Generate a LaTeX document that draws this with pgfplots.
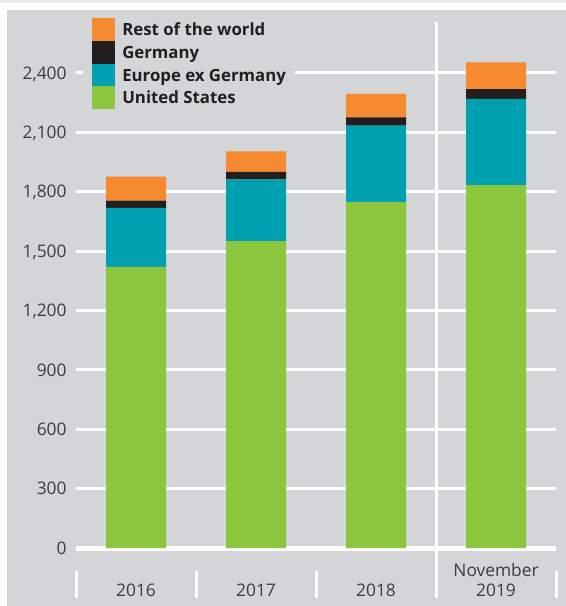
\documentclass[border=0pt]{standalone}
\usepackage{fontspec}
\setmainfont{Open Sans}
\usepackage{pgfplots}
\pgfplotsset{compat=1.18}
\definecolor{bg}{RGB}{212,213,215}
\definecolor{topband}{RGB}{235,235,237}
\definecolor{cus}{RGB}{140,198,63}
\definecolor{ceu}{RGB}{0,160,176}
\definecolor{cger}{RGB}{35,31,32}
\definecolor{crow}{RGB}{245,138,49}
\definecolor{txt}{RGB}{60,60,62}
\pgfplotsset{myleg/.style={legend image code/.code={\fill[##1] (0pt,-8.5pt) rectangle (17.25pt,8.5pt);}}}
\begin{document}
\begin{tikzpicture}
\path[use as bounding box] (0,0) rectangle (424.5pt,454.5pt);
\fill[white] (0,0) rectangle (424.5pt,454.5pt);
\fill[topband] (0,452.25pt) rectangle (424.5pt,454.5pt);
\fill[bg] (5.25pt,0) rectangle (424.5pt,447pt);
\begin{axis}[
  at={(57pt,43.5pt)}, anchor=south west,
  scale only axis, width=360pt, height=356.25pt,
  xmin=-0.5, xmax=3.5, ymin=0, ymax=2400,
  clip=false,
  axis line style={draw=none},
  major tick length=0pt,
  tick style={draw=none},
  ybar stacked, bar width=45pt,
  xtick={0,1,2,3},
  xticklabels={{2016},{2017},{2018},{November\\2019}},
  xticklabel style={align=center, anchor=base, yshift=-36pt, inner sep=0pt,
    font=\fontsize{13}{15}\selectfont, text=txt},
  ytick={0,300,...,2400},
  yticklabel style={anchor=base east, inner sep=0pt, xshift=-6.9pt, yshift=-4.6pt,
    font=\fontsize{13}{15}\selectfont, text=txt},
  /pgf/number format/.cd, 1000 sep={,}, assume math mode=true, /pgfplots/.cd,
  ymajorgrids, grid style={white, line width=2.25pt},
  reverse legend,
  legend cell align=left,
  legend style={at={(0.01458,1.1214)}, anchor=north west, draw=none, fill=bg,
    inner xsep=6.75pt, inner ysep=2pt, row sep=0pt,
    nodes={inner sep=0pt, text height=13.2pt, text depth=3.8pt,
      font=\bfseries\fontsize{12.6}{15}\selectfont, text={cger}},
    /tikz/every odd column/.append style={column sep=5.25pt}},
]
\addplot[fill=cus, draw=none, myleg] coordinates {(0,1420) (1,1551) (2,1747) (3,1834)};
\addlegendentry{United States}
\addplot[fill=ceu, draw=none, myleg] coordinates {(0,298) (1,312) (2,387) (3,435)};
\addlegendentry{Europe ex Germany}
\addplot[fill=cger, draw=none, myleg] coordinates {(0,37) (1,37) (2,42) (3,49)};
\addlegendentry{Germany}
\addplot[fill=crow, draw=none, myleg] coordinates {(0,121) (1,104) (2,118) (3,136)};
\addlegendentry{Rest of the world}
\draw[white, line width=3.75pt] (axis cs:-0.5,0) -- (axis cs:3.5,0);
\draw[white, line width=2.25pt] (axis cs:2.5,2657) -- (axis cs:2.5,-253);
\draw[white, line width=2.25pt] (axis cs:-0.5,-116) -- (axis cs:-0.5,-253);
\draw[white, line width=2.25pt] (axis cs:0.5,-116) -- (axis cs:0.5,-253);
\draw[white, line width=2.25pt] (axis cs:1.5,-116) -- (axis cs:1.5,-253);
\draw[white, line width=2.25pt] (axis cs:3.5,-116) -- (axis cs:3.5,-253);
\end{axis}
\end{tikzpicture}
\end{document}
